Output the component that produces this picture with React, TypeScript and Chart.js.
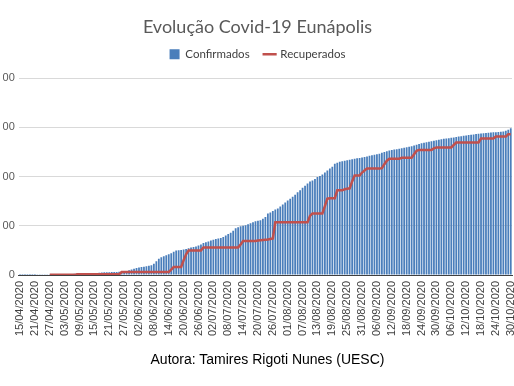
import { useEffect, useRef } from "react";
import { Chart, registerables } from "chart.js";

Chart.register(...registerables);

// Categories: daily dates from 15/04/2020 to 30/10/2020
const firstDay = "2020-04-15";
const dayCount = 199;
const tickEvery = 6;

function buildDays(): string[] {
  const out: string[] = [];
  const d = new Date(firstDay + "T12:00:00");
  for (let i = 0; i < dayCount; i++) {
    const dd = String(d.getDate()).padStart(2, "0");
    const mm = String(d.getMonth() + 1).padStart(2, "0");
    out.push(`${dd}/${mm}/${d.getFullYear()}`);
    d.setDate(d.getDate() + 1);
  }
  return out;
}
const dias = buildDays();

const confirmados: number[] = [
  1, 1, 1, 1, 2, 2,
  2, 3, 3, 3, 4, 4,
  5, 6, 8, 10, 12, 14,
  16, 18, 20, 22, 24, 25,
  26, 28, 30, 32, 34, 36,
  38, 40, 45, 50, 55, 58,
  58, 60, 60, 62, 64, 66,
  70, 80, 95, 110, 125, 140,
  150, 160, 170, 180, 190, 200,
  230, 280, 330, 360, 380, 400,
  420, 440, 470, 500, 505, 510,
  520, 530, 545, 560, 570, 580,
  600, 620, 650, 665, 680, 700,
  715, 730, 740, 750, 770, 800,
  830, 860, 900, 950, 970, 990,
  1000, 1010, 1030, 1050, 1070, 1090,
  1100, 1110, 1140, 1180, 1250, 1270,
  1300, 1330, 1350, 1390, 1430, 1470,
  1515, 1550, 1590, 1630, 1680, 1720,
  1770, 1810, 1860, 1900, 1920, 1950,
  1990, 2010, 2040, 2080, 2120, 2160,
  2200, 2260, 2280, 2300, 2310, 2320,
  2330, 2340, 2350, 2360, 2370, 2375,
  2385, 2395, 2405, 2420, 2430, 2440,
  2450, 2460, 2480, 2500, 2515, 2530,
  2540, 2550, 2555, 2565, 2575, 2585,
  2595, 2605, 2615, 2630, 2645, 2660,
  2675, 2685, 2695, 2705, 2715, 2725,
  2735, 2745, 2755, 2765, 2770, 2775,
  2785, 2790, 2800, 2810, 2815, 2825,
  2835, 2845, 2850, 2855, 2865, 2870,
  2875, 2880, 2885, 2890, 2895, 2900,
  2900, 2905, 2910, 2915, 2930, 2950,
  2980,
];

const recuperados: (number | null)[] = [
  null, null, null, null, null, null,
  null, null, null, null, null, null,
  3, 3, 3, 3, 3, 3,
  3, 3, 3, 3, 3, 15,
  15, 15, 15, 15, 15, 15,
  15, 15, 15, 15, 15, 15,
  15, 15, 15, 15, 15, 60,
  60, 60, 60, 60, 60, 60,
  60, 60, 60, 60, 60, 60,
  60, 60, 60, 60, 60, 60,
  60, 110, 160, 160, 160, 160,
  300, 420, 500, 500, 500, 500,
  500, 500, 560, 560, 560, 560,
  560, 560, 560, 560, 560, 560,
  560, 560, 560, 560, 560, 620,
  690, 690, 690, 690, 690, 690,
  700, 705, 710, 715, 720, 730,
  740, 1070, 1070, 1070, 1070, 1070,
  1070, 1070, 1070, 1070, 1070, 1070,
  1070, 1070, 1070, 1200, 1250, 1250,
  1250, 1250, 1250, 1400, 1550, 1560,
  1560, 1560, 1720, 1720, 1720, 1740,
  1750, 1760, 1900, 2020, 2020, 2020,
  2080, 2120, 2160, 2160, 2160, 2160,
  2160, 2160, 2170, 2250, 2320, 2360,
  2360, 2360, 2360, 2360, 2380, 2380,
  2380, 2380, 2380, 2450, 2520, 2540,
  2540, 2540, 2540, 2540, 2540, 2570,
  2590, 2590, 2590, 2590, 2590, 2590,
  2590, 2640, 2690, 2690, 2690, 2690,
  2690, 2690, 2690, 2690, 2690, 2690,
  2770, 2770, 2770, 2770, 2770, 2770,
  2810, 2810, 2810, 2810, 2810, 2860,
  2860,
];

const yMax = 4000;
const yStep = 1000;

const titulo = "Evolução Covid-19 Eunápolis";
const autoria = "Autora: Tamires Rigoti Nunes (UESC)";

export default function App() {
  const ref = useRef<HTMLCanvasElement>(null);

  useEffect(() => {
    if (!ref.current) return;
    const chart = new Chart(ref.current, {
      type: "bar",
      data: {
        labels: dias,
        datasets: [
          {
            type: "line",
            label: "Recuperados",
            data: recuperados,
            borderColor: "#C0504D",
            backgroundColor: "#C0504D",
            borderWidth: 2.5,
            pointRadius: 0,
            pointStyle: "line",
            tension: 0,
            order: 1,
          } as any,
          {
            type: "bar",
            label: "Confirmados",
            data: confirmados,
            backgroundColor: "#4A7EBB",
            barPercentage: 0.72,
            categoryPercentage: 1,
            pointStyle: "rect",
            order: 2,
          } as any,
        ],
      },
      options: {
        responsive: false,
        animation: false,
        devicePixelRatio: 1,
        layout: { padding: { left: 3, right: 2, top: 0, bottom: 0 } },
        plugins: {
          title: {
            display: true,
            text: titulo,
            color: "#595959",
            font: { family: "Lato", size: 18, weight: "normal", lineHeight: 0.6 },
            padding: { top: 21.6, bottom: 1.1 },
          },
          subtitle: {
            display: true,
            text: "",
            weight: 500,
            font: { size: 8, lineHeight: 1 },
            padding: 0,
          } as any,
          legend: {
            reverse: true,
            labels: {
              usePointStyle: true,
              boxWidth: 10,
              boxHeight: 10,
              padding: 15,
              color: "#404040",
              font: { family: "Lato", size: 11.5 },
            },
          },
          tooltip: { enabled: false },
        },
        scales: {
          x: {
            grid: { display: false, drawTicks: false },
            border: { display: true, color: "#404040" },
            ticks: {
              autoSkip: false,
              maxRotation: 90,
              minRotation: 90,
              padding: 6,
              color: "#404040",
              font: { family: "Liberation Sans", size: 11 },
              callback: (_v: any, i: number) => (i % tickEvery === 0 ? dias[i] : ""),
            },
            afterFit: (s: any) => {
              s.height = 111;
              s.paddingLeft = 0;
              s.paddingRight = 0;
            },
          },
          y: {
            min: 0,
            max: yMax,
            ticks: {
              stepSize: yStep,
              padding: 4,
              color: "#595959",
              font: { family: "Liberation Sans", size: 11 },
              callback: (v: any) => String(v),
            },
            grid: { color: "#D9D9D9", drawTicks: false },
            border: { display: false },
            afterFit: (s: any) => {
              s.width = 15.8;
            },
          },
        },
      },
    });
    return () => chart.destroy();
  }, []);

  return (
    <div
      style={{
        position: "fixed",
        left: 0,
        top: 0,
        width: 514,
        height: 386,
        overflow: "hidden",
        background: "#fff",
      }}
    >
      <canvas ref={ref} width={514} height={386} style={{ display: "block", width: 514, height: 386 }} />
      <div
        style={{
          position: "absolute",
          left: 0,
          top: 351,
          width: 535,
          textAlign: "center",
          font: '14px/16px "Liberation Sans", Arial, sans-serif',
          color: "#000",
          whiteSpace: "nowrap",
        }}
      >
        {autoria}
      </div>
    </div>
  );
}
